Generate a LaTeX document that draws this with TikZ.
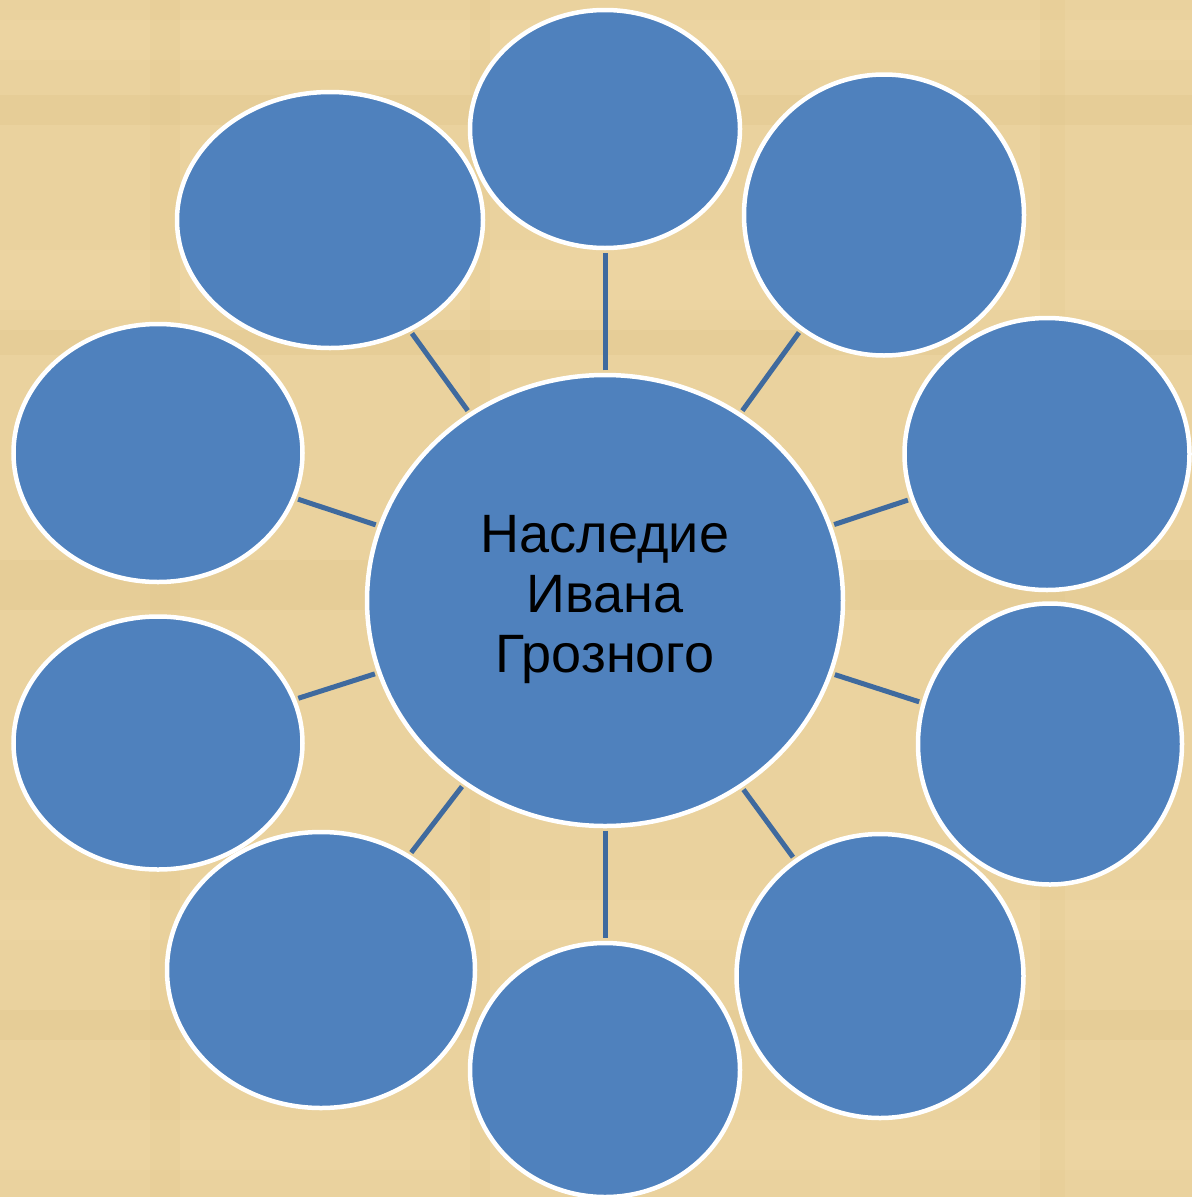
\documentclass[tikz,border=0pt]{standalone}
\usepackage{fontspec}
\setmainfont{Liberation Sans}
\usetikzlibrary{shapes.geometric}
\definecolor{papyrus}{HTML}{EAD29E}
\definecolor{papyrusL}{HTML}{F3DDAA}
\definecolor{papyrusD}{HTML}{DDC083}
\definecolor{bubble}{HTML}{4F81BD}
\definecolor{linkc}{HTML}{3F6A9E}
\tikzset{
  bub/.style={ellipse, fill=bubble, draw=white, line width=4.5pt, inner sep=0pt},
  link/.style={draw=linkc, line width=5pt},
}
\begin{document}
\begin{tikzpicture}[x=1pt,y=-1pt]
\fill[papyrus] (0,0) rectangle (1192,1197);
\useasboundingbox (0,0) rectangle (1192,1197);
% subtle papyrus texture
\foreach \y/\h/\c in {20/40/papyrusL, 95/30/papyrusD, 250/60/papyrusL, 330/25/papyrusD, 560/50/papyrusD, 900/40/papyrusL, 1010/30/papyrusD, 1120/50/papyrusL}
  \fill[\c, opacity=0.25] (0,\y) rectangle (1192,\y+\h);
\foreach \x/\w/\c in {150/30/papyrusD, 470/20/papyrusD, 820/40/papyrusL, 1040/25/papyrusD}
  \fill[\c, opacity=0.15] (\x,0) rectangle (\x+\w,1197);
% nodes
\node[bub, minimum width=476, minimum height=451] (c) at (605,600.5)
  {\fontsize{54}{60}\selectfont\begin{tabular}{@{}c@{}}Наследие\\Ивана\\Грозного\end{tabular}};
\node[bub, minimum width=270, minimum height=238] (n1) at (605,129) {};
\node[bub, minimum width=280, minimum height=281] (n2) at (884,215) {};
\node[bub, minimum width=285, minimum height=272] (n3) at (1047,454) {};
\node[bub, minimum width=264, minimum height=281] (n4) at (1050,744) {};
\node[bub, minimum width=287, minimum height=284] (n5) at (880,976) {};
\node[bub, minimum width=270, minimum height=254] (n6) at (605,1070) {};
\node[bub, minimum width=308, minimum height=276] (n7) at (321,970) {};
\node[bub, minimum width=289, minimum height=253] (n8) at (158,743) {};
\node[bub, minimum width=289, minimum height=258] (n9) at (158,453) {};
\node[bub, minimum width=306, minimum height=256] (n10) at (330,220) {};
% connectors
\foreach \n in {n1,n2,n3,n4,n5,n6,n7,n8,n9,n10}
  \draw[link, shorten <=2.5pt, shorten >=2.5pt] (c) -- (\n);
\end{tikzpicture}
\end{document}
